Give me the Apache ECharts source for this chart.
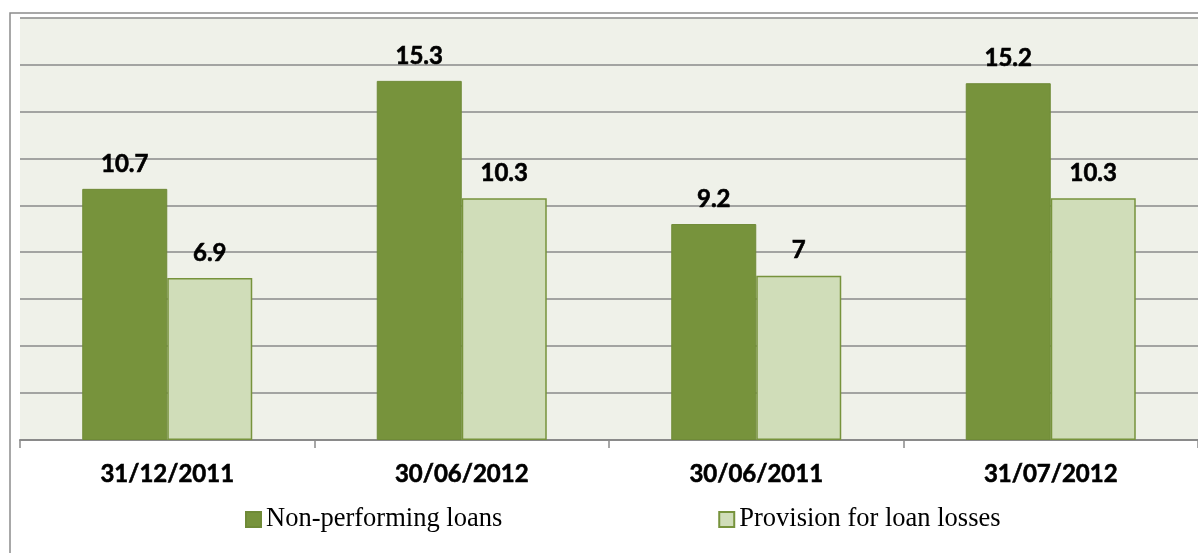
<!DOCTYPE html>
<html>
<head>
<meta charset="utf-8">
<script src="https://cdn.jsdelivr.net/npm/echarts@6/dist/echarts.min.js"></script>
<style>
  html, body { margin: 0; padding: 0; background: #ffffff; }
  #chart { width: 1198px; height: 553px; }
</style>
</head>
<body>
<div id="chart"></div>
<script>
// Loan quality figures by reporting date
const categories = ['31/12/2011', '30/06/2012', '30/06/2011', '31/07/2012'];
const nonPerformingLoans = [10.7, 15.3, 9.2, 15.2];
const loanLossProvisions = [6.9, 10.3, 7, 10.3];
const seriesNames = ['Non-performing loans', 'Provision for loan losses'];

const DARK_GREEN = '#77933c';
const LIGHT_GREEN = '#d0ddb9';
const GRID_GREY = '#8a8a8a';
const LABEL_FONT = 'Lato, "Open Sans", sans-serif';

const chart = echarts.init(document.getElementById('chart'), null, { renderer: 'canvas' });

const valueLabel = {
  show: true,
  position: 'top',
  distance: 13,
  color: '#000000',
  fontFamily: LABEL_FONT,
  fontWeight: 'bold',
  fontSize: 24,
  textBorderColor: '#000000',
  textBorderWidth: 0.6
};

chart.setOption({
  animation: false,
  backgroundColor: '#ffffff',
  graphic: [{
    // outer chart frame
    type: 'rect',
    shape: { x: 10, y: 13, width: 1200, height: 600 },
    style: { fill: 'none', stroke: '#8c8c8c', lineWidth: 1.5 },
    z: 100
  }],
  grid: {
    left: 20,
    top: 17.5,
    right: -2,
    bottom: 113,
    show: true,
    backgroundColor: '#eff1e9',
    borderWidth: 0
  },
  legend: {
    data: seriesNames,
    left: 240,
    top: 501,
    itemWidth: 15,
    itemHeight: 15,
    itemGap: 216,
    icon: 'rect',
    textStyle: {
      fontFamily: '"Liberation Serif", "DejaVu Serif", serif',
      fontSize: 26.5,
      color: '#000000'
    }
  },
  xAxis: {
    type: 'category',
    data: categories,
    axisLine: { show: true, lineStyle: { color: GRID_GREY, width: 2 } },
    axisTick: { show: true, length: 8, alignWithLabel: false, lineStyle: { color: GRID_GREY, width: 1.5 } },
    axisLabel: {
      margin: 22,
      color: '#000000',
      fontFamily: LABEL_FONT,
      fontWeight: 'bold',
      fontSize: 24,
      textBorderColor: '#000000',
      textBorderWidth: 0.6
    }
  },
  yAxis: {
    type: 'value',
    min: 0,
    max: 18,
    interval: 2,
    axisLine: { show: false },
    axisTick: { show: false },
    axisLabel: { show: false },
    splitLine: { show: true, lineStyle: { color: GRID_GREY, width: 1.5 } }
  },
  series: [
    {
      name: seriesNames[0],
      type: 'bar',
      data: nonPerformingLoans,
      barWidth: 85,
      barGap: '0%',
      itemStyle: { color: DARK_GREEN, borderColor: '#6f8a37', borderWidth: 1 },
      label: valueLabel
    },
    {
      name: seriesNames[1],
      type: 'bar',
      data: loanLossProvisions,
      barWidth: 85,
      barGap: '0%',
      itemStyle: { color: LIGHT_GREEN, borderColor: DARK_GREEN, borderWidth: 1.5 },
      label: valueLabel
    }
  ]
});
</script>
</body>
</html>
